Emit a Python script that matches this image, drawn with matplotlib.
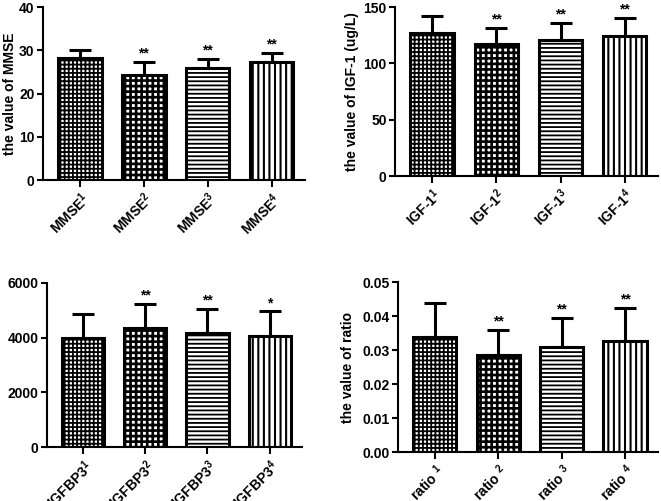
import matplotlib
matplotlib.use("Agg")
import matplotlib.pyplot as plt

plt.rcParams['font.family'] = ['Liberation Sans', 'DejaVu Sans']
plt.rcParams['font.weight'] = 'bold'
plt.rcParams['font.size'] = 10
plt.rcParams['mathtext.fontset'] = 'custom'
plt.rcParams['mathtext.default'] = 'bf'
plt.rcParams['mathtext.bf'] = 'Liberation Sans:bold'
plt.rcParams['mathtext.rm'] = 'Liberation Sans:bold'

# данные
mmse_names = ['MMSE$^1$', 'MMSE$^2$', 'MMSE$^3$', 'MMSE$^4$']
mmse_mean = [28.2, 24.3, 25.8, 27.4]
mmse_err = [1.8, 3.1, 2.1, 2.0]
mmse_stars = ['', '**', '**', '**']

igf_names = ['IGF-1$^1$', 'IGF-1$^2$', 'IGF-1$^3$', 'IGF-1$^4$']
igf_mean = [127.2, 117.1, 120.7, 124.2]
igf_err = [14.8, 14.5, 15.5, 16.3]
igf_stars = ['', '**', '**', '**']

bp3_names = ['IGFBP3$^1$', 'IGFBP3$^2$', 'IGFBP3$^3$', 'IGFBP3$^4$']
bp3_mean = [3990, 4330, 4160, 4040]
bp3_err = [870, 900, 880, 910]
bp3_stars = ['', '**', '**', '*']

ratio_names = ['ratio $^1$', 'ratio $^2$', 'ratio $^3$', 'ratio $^4$']
ratio_mean = [0.0340, 0.0286, 0.0309, 0.0328]
ratio_err = [0.0098, 0.0074, 0.0085, 0.0096]
ratio_stars = ['', '**', '**', '**']

# штриховки: мелкая клетка, крупная клетка, горизонтальные, вертикальные
hatches = ['++++', '+++', '----', '|||']
hatch_lw = [1.3, 1.9, 1.3, 1.5]


def panel(rect, names, mean, err, stars, ylim, yticks, ylabel, fmt, lpad):
    ax = fig.add_axes(rect)
    x = range(len(mean))
    for i in x:
        with plt.rc_context({'hatch.linewidth': hatch_lw[i]}):
            b = ax.bar(i, mean[i], width=0.68, color='white', edgecolor='black',
                       linewidth=2.2, hatch=hatches[i], zorder=2)
        for p in b:
            try:
                p.set_hatch_linewidth(hatch_lw[i])
            except AttributeError:
                pass
    ax.errorbar(list(x), mean, yerr=[[0] * len(err), err], fmt='none',
                ecolor='black', elinewidth=2.2, capsize=8, capthick=2.2, zorder=1)
    for i in x:
        if stars[i]:
            ax.annotate(stars[i], (i, mean[i] + err[i]), xytext=(0, 1),
                        textcoords='offset points', ha='center', va='bottom',
                        fontsize=10, fontweight='bold', annotation_clip=False)
    ax.set_xlim(-0.58, 3.52)
    ax.set_ylim(*ylim)
    ax.set_yticks(yticks)
    ax.set_yticklabels([fmt.format(v) for v in yticks])
    ax.set_xticks(list(x))
    ax.set_xticklabels(names, rotation=45, ha='right', rotation_mode='anchor',
                       fontsize=10.5)
    ax.set_ylabel(ylabel, fontsize=10, fontweight='bold', labelpad=lpad)
    ax.spines['top'].set_visible(False)
    ax.spines['right'].set_visible(False)
    ax.spines['left'].set_linewidth(1.5)
    ax.spines['bottom'].set_linewidth(1.5)
    ax.tick_params(width=1.5, length=4, labelsize=10, pad=2)
    ax.tick_params(axis='x', length=5)
    return ax


fig = plt.figure(figsize=(6.61, 5.01), dpi=100)

panel([0.065, 0.6407, 0.396, 0.3453], mmse_names, mmse_mean, mmse_err, mmse_stars,
      (0, 40), [0, 10, 20, 30, 40], 'the value of MMSE', '{:g}', 1.5)
panel([0.5976, 0.6487, 0.3979, 0.3373], igf_names, igf_mean, igf_err, igf_stars,
      (0, 150), [0, 50, 100, 150], 'the value of IGF-1 (ug/L)', '{:g}', 3.5)
panel([0.0711, 0.1072, 0.3858, 0.3287], bp3_names, bp3_mean, bp3_err, bp3_stars,
      (0, 6000), [0, 2000, 4000, 6000], 'the value of IGFBP3 (ug/L)', '{:g}', 6)
panel([0.6021, 0.0972, 0.3933, 0.3393], ratio_names, ratio_mean, ratio_err, ratio_stars,
      (0, 0.05), [0, 0.01, 0.02, 0.03, 0.04, 0.05], 'the value of ratio', '{:.2f}', 5.5)

fig.savefig('out.png', dpi=100)
